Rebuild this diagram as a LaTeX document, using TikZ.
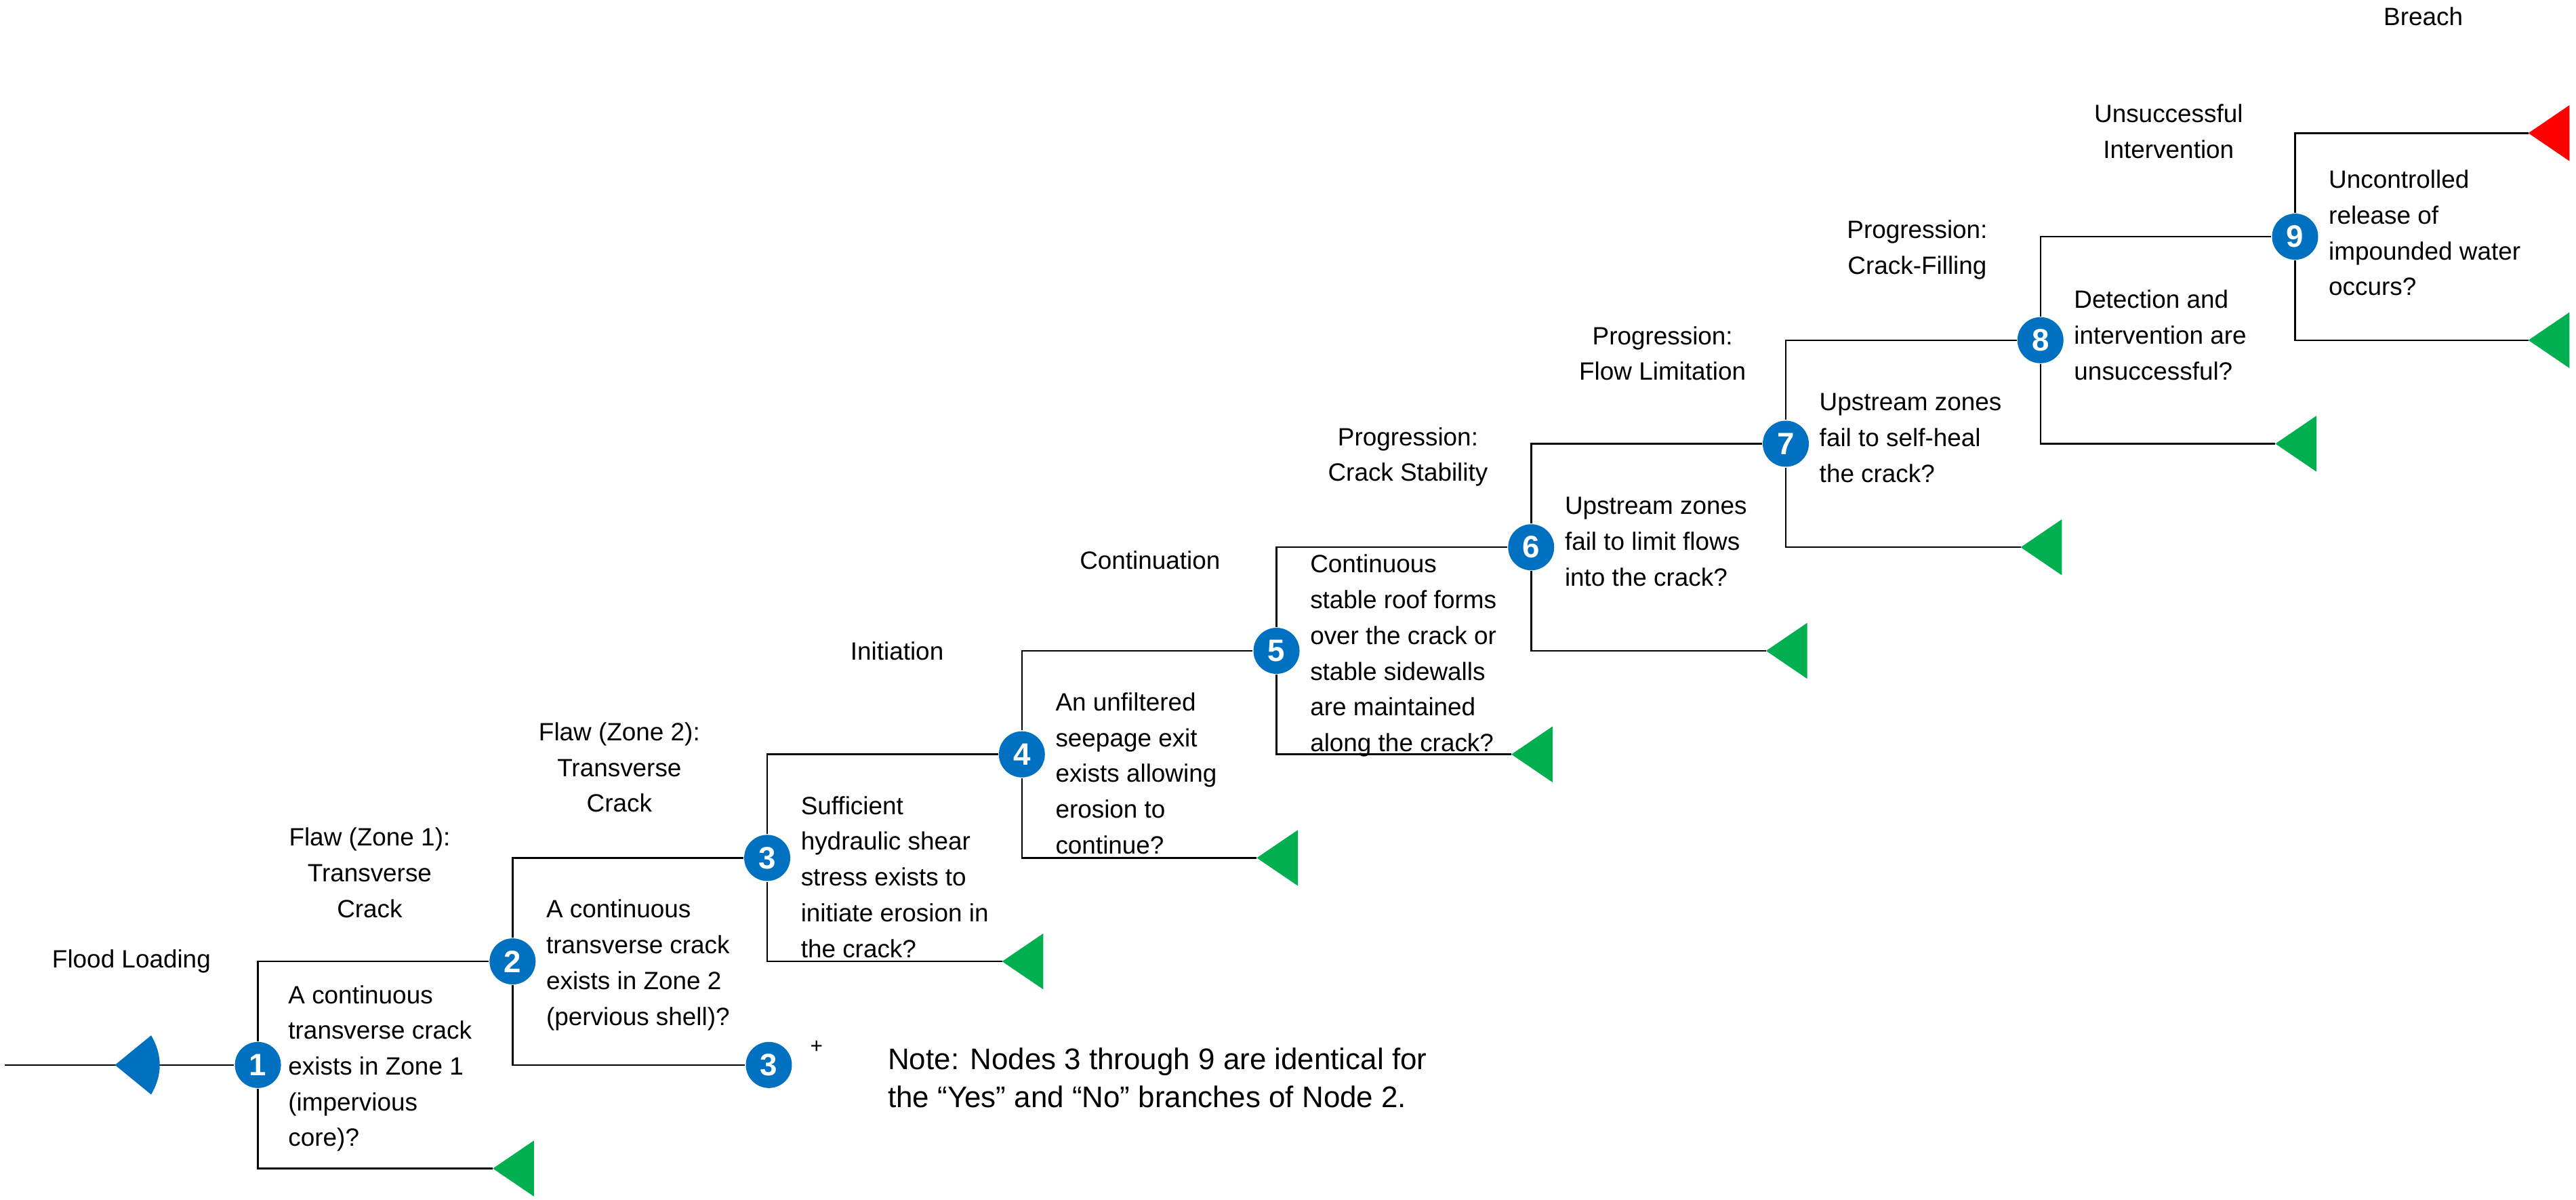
\documentclass[tikz,border=0pt]{standalone}
\usepackage{fontspec}
\setmainfont{Liberation Sans}
\usepackage{tikz}
\usetikzlibrary{calc}
\definecolor{nodeblue}{RGB}{0,112,192}
\definecolor{okgreen}{RGB}{0,176,80}
\definecolor{badred}{RGB}{255,0,0}
\newcommand{\qtext}{\fontsize{10.5}{15}\selectfont}
\begin{document}
\begin{tikzpicture}[x=0.02424cm,y=-0.02424cm,line width=0.7pt]
\tikzset{evt/.style={circle,fill=nodeblue,text=white,inner sep=0pt,minimum size=0.68cm,font=\fontsize{13}{13}\selectfont\bfseries},
  q/.style={anchor=north west,align=left,inner sep=0pt,font=\qtext},
  head/.style={align=center,inner sep=0pt,font=\qtext}}
\useasboundingbox (0,0) rectangle (1568,730);
% chance nodes
\foreach \k in {1,...,9}
  \node [evt] (n\k) at ({157+155*(\k-1)},{648-63*(\k-1)}) {\k};
\node [evt] (n3b) at (468,648) {3};
\node [font=\fontsize{9}{9}\selectfont] (plus) at (497,637) {+};
% branches
\foreach \k [evaluate=\k as \nx using int(\k+1)] in {1,...,8} {
  \draw (n\k.north) |- (n\nx.west);
  \coordinate (t\k) at ($(n\k)+(143,63)$);
}
\foreach \k in {1,3,4,5,6,7,8} {
  \draw (n\k.south) |- (t\k);
  \fill [okgreen] (t\k) -- ++(25,-17) -- ++(0,34) -- cycle;
}
\draw (n2.south) |- (n3b.west);
\coordinate (t9) at ($(n9)+(142,63)$);
\coordinate (r9) at ($(n9)+(142,-63)$);
\draw (n9.south) |- (t9);
\draw (n9.north) |- (r9);
\fill [okgreen] (t9) -- ++(25,-17) -- ++(0,34) -- cycle;
\fill [badred] (r9) -- ++(25,-17) -- ++(0,34) -- cycle;
% start
\coordinate (start) at (3,648);
\draw (start) -- (n1.west);
\fill [nodeblue] (70,648) -- (92,630) .. controls (99,642) and (99,654) .. (92,666) -- cycle;
% headings
\node [head] (h0) at (80,585) {Flood Loading};
\node [head] (h1) at (225,531) {Flaw (Zone 1):\\Transverse\\Crack};
\node [head] (h2) at (377,467) {Flaw (Zone 2):\\Transverse\\Crack};
\node [head] (h3) at (546,396) {Initiation};
\node [head] (h4) at (700,341) {Continuation};
\node [head] (h5) at (857,278) {Progression:\\Crack Stability};
\node [head] (h6) at (1012,215) {Progression:\\Flow Limitation};
\node [head] (h7) at (1167,152) {Progression:\\Crack-Filling};
\node [head] (h8) at (1320,80) {Unsuccessful\\Intervention};
\node [head] (h9) at (1475,10) {Breach};
% questions
\node [q] (q1) at (175,599) {A continuous\\transverse crack\\exists in Zone 1\\(impervious\\core)?};
\node [q] (q2) at (332,547) {A continuous\\transverse crack\\exists in Zone 2\\(pervious shell)?};
\node [q] (q3) at (487,484) {Sufficient\\hydraulic shear\\stress exists to\\initiate erosion in\\the crack?};
\node [q] (q4) at (642,421) {An unfiltered\\seepage exit\\exists allowing\\erosion to\\continue?};
\node [q] (q5) at (797,337) {Continuous\\stable roof forms\\over the crack or\\stable sidewalls\\are maintained\\along the crack?};
\node [q] (q6) at (952,302) {Upstream zones\\fail to limit flows\\into the crack?};
\node [q] (q7) at (1107,239) {Upstream zones\\fail to self-heal\\the crack?};
\node [q] (q8) at (1262,176) {Detection and\\intervention are\\unsuccessful?};
\node [q] (q9) at (1417,103) {Uncontrolled\\release of\\impounded water\\occurs?};
\node [q,font=\fontsize{12.5}{16}\selectfont] (note) at (540,637) {Note: Nodes 3 through 9 are identical for\\the “Yes” and “No” branches of Node 2.};
\end{tikzpicture}
\end{document}
